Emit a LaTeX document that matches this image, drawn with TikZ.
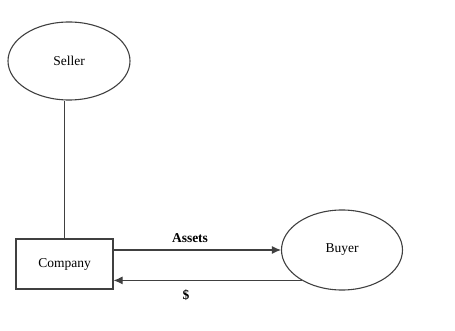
\documentclass[tikz,border=0pt]{standalone}
\usepackage{fontspec}
\setmainfont{Liberation Serif}
\usetikzlibrary{shapes.geometric,arrows.meta}
\begin{document}
\begin{tikzpicture}[x=1pt,y=-1pt,
  ink/.style={draw=black!75, line width=1.1pt},
  party/.style={ellipse, ink, inner sep=0pt, font=\fontsize{13.5}{15}\selectfont},
  firm/.style={rectangle, ink, inner sep=0pt, font=\fontsize{13.5}{15}\selectfont},
  flow/.style={ink, -{Latex[length=9pt,width=8pt]}},
  tag/.style={font=\bfseries\fontsize{13.5}{15}\selectfont}]
  \useasboundingbox (0,0) rectangle (455,331);
  % parties
  \node[party, minimum width=122pt, minimum height=78pt] (Seller) at (69,61) {Seller};
  \node[party, minimum width=121pt, minimum height=80pt] (Buyer) at (342,250) {Buyer};
  \node[firm, minimum width=97pt, minimum height=50pt] (Company) at (64.5,264) {Company};
  % ownership link
  \draw[ink] (Company.north) -- (Company.north |- Seller.south);
  % exchange
  \coordinate (AssetsStart) at (Company.east |- Buyer.west);
  \draw[flow] (AssetsStart) -- (Buyer.west);
  \coordinate (CashStart) at (Buyer.217);
  \draw[flow] (CashStart) -- (CashStart -| Company.east);
  \node[tag] (AssetsLbl) at (190,238) {Assets};
  \node[tag] (CashLbl) at (186,295) {\$};
\end{tikzpicture}
\end{document}
